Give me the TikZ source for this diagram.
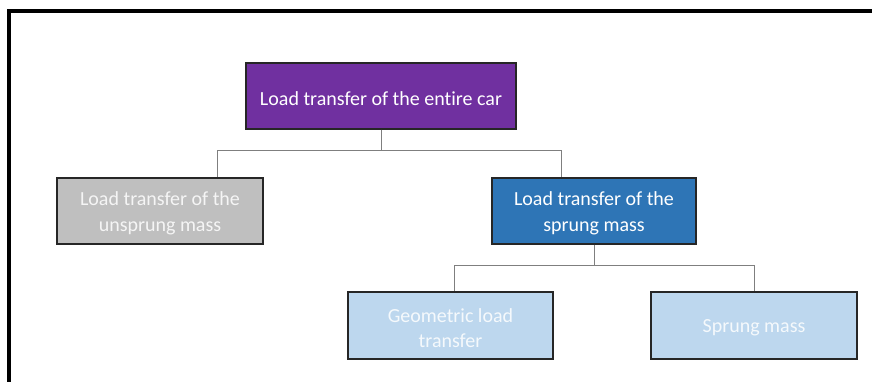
\documentclass[tikz,border=0pt]{standalone}
\usepackage{fontspec}
\setmainfont{Carlito}[Ligatures=NoCommon]
\definecolor{topfill}{HTML}{7030A0}
\definecolor{midfill}{HTML}{2E75B6}
\definecolor{greyfill}{HTML}{BFBFBF}
\definecolor{lightfill}{HTML}{BDD7EE}
\definecolor{edge}{HTML}{262626}
\definecolor{wire}{HTML}{7F7F7F}
\begin{document}
\begin{tikzpicture}[x=1pt,y=-1pt,
  orgbox/.style={draw=edge,line width=1.3pt,inner sep=0pt},
  boxtext/.style={align=center,inner sep=0pt,yshift=-2.5pt,
    font=\fontsize{20}{25.5}\selectfont,text=white},
  link/.style={draw=wire,line width=0.9pt}]
  \useasboundingbox (0,0) rectangle (872,381);
  % outer frame, running past the right and bottom edges
  \begin{scope}
    \clip (0,0) rectangle (872,381);
    \draw[line width=4pt] (8.7,11.3) rectangle (900,400);
  \end{scope}
  % boxes with their labels
  \node[orgbox,fill=topfill,minimum width=270pt,minimum height=66pt,
    label={[boxtext]center:Load transfer of the entire car}] (car) at (381,96) {};
  \node[orgbox,fill=greyfill,minimum width=206pt,minimum height=66pt,
    label={[boxtext,text=white!92!gray]center:Load transfer of the\\unsprung mass}] (unsprung) at (160,211) {};
  \node[orgbox,fill=midfill,minimum width=204pt,minimum height=66pt,
    label={[boxtext]center:Load transfer of the\\sprung mass}] (sprung) at (594,211) {};
  \node[orgbox,fill=lightfill,minimum width=205pt,minimum height=67pt,
    label={[boxtext,text=white!85!lightfill]center:Geometric load\\transfer}] (geo) at (450.5,325.5) {};
  \node[orgbox,fill=lightfill,minimum width=206pt,minimum height=67pt,
    label={[boxtext,text=white!85!lightfill]center:Sprung mass}] (sm) at (754,325.5) {};
  % connectors
  \coordinate (j1) at (381,150);
  \coordinate (j2) at (594,265);
  \draw[link] (car.south) -- (j1);
  \draw[link] (217,150) -- (561,150);
  \draw[link] (217,150) -- (unsprung.north -| 217,0);
  \draw[link] (561,150) -- (sprung.north -| 561,0);
  \draw[link] (sprung.south) -- (j2);
  \draw[link] (454,265) -- (sm.north |- 0,265);
  \draw[link] (454,265) -- (geo.north -| 454,0);
  \draw[link] (sm.north |- 0,265) -- (sm.north);
\end{tikzpicture}
\end{document}
